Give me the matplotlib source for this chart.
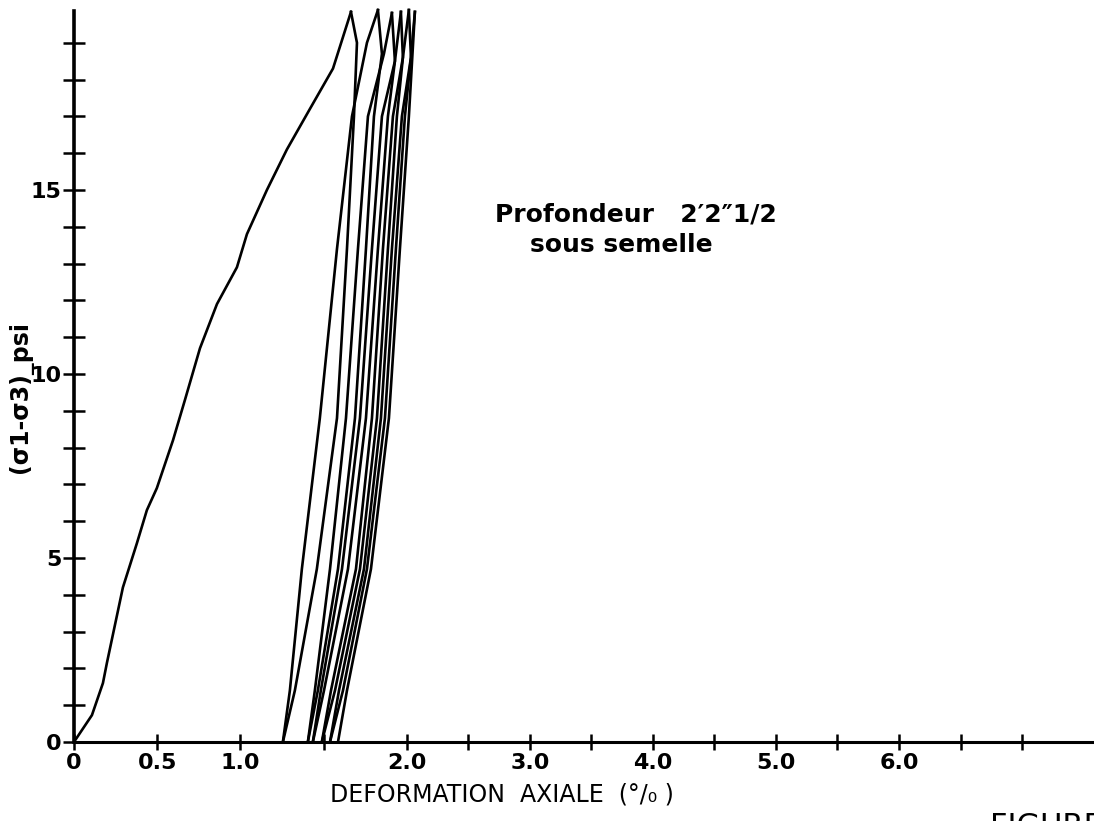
import numpy as np
import matplotlib.pyplot as plt
from matplotlib.ticker import FixedLocator, FixedFormatter

# deformation axiale (%) / (sigma1 - sigma3) en psi
virgin_x = [0, 0.108, 0.174, 0.198, 0.294, 0.378, 0.438, 0.498, 0.595, 0.667,
            0.757, 0.859, 0.979, 1.039, 1.159, 1.279, 1.417, 1.556, 1.664]
virgin_y = [0, 0.73, 1.6, 2.15, 4.2, 5.4, 6.3, 6.9, 8.2, 9.3,
            10.7, 11.9, 12.9, 13.8, 15.0, 16.1, 17.2, 18.3, 19.84]

# cycles decharge / recharge, chaque branche du pied jusqu'au sommet
r2_x = [1.255, 1.297, 1.369, 1.477, 1.580, 1.670, 1.706, 1.760, 1.826]
r2_y = [0, 1.4, 4.7, 8.8, 13.4, 17.0, 17.8, 19.0, 19.89]
u1_x = [1.255, 1.327, 1.459, 1.580, 1.640, 1.682, 1.700, 1.664]
u1_y = [0, 1.4, 4.7, 8.8, 13.4, 17.0, 19.0, 19.84]
r3_x = [1.405, 1.447, 1.538, 1.634, 1.706, 1.766, 1.862, 1.910]
r3_y = [0, 1.4, 4.7, 8.8, 13.4, 17.0, 18.7, 19.81]
u2_x = [1.405, 1.465, 1.586, 1.688, 1.754, 1.802, 1.850, 1.826]
u2_y = [0, 1.4, 4.7, 8.8, 13.4, 17.0, 18.7, 19.89]
r4_x = [1.435, 1.483, 1.610, 1.718, 1.790, 1.850, 1.928, 1.964]
r4_y = [0, 1.4, 4.7, 8.8, 13.4, 17.0, 18.5, 19.84]
u3_x = [1.435, 1.502, 1.646, 1.754, 1.826, 1.886, 1.928, 1.910]
u3_y = [0, 1.4, 4.7, 8.8, 13.4, 17.0, 18.5, 19.81]
r5_x = [1.489, 1.544, 1.694, 1.790, 1.856, 1.916, 1.976, 2.016]
r5_y = [0, 1.4, 4.7, 8.8, 13.4, 17.0, 18.6, 19.89]
u4_x = [1.489, 1.568, 1.718, 1.820, 1.886, 1.940, 1.976, 1.964]
u4_y = [0, 1.4, 4.7, 8.8, 13.4, 17.0, 18.6, 19.84]
r6_x = [1.538, 1.592, 1.742, 1.844, 1.910, 1.970, 2.033, 2.065]
r6_y = [0, 1.4, 4.7, 8.8, 13.4, 17.0, 18.6, 19.84]
u5_x = [1.538, 1.616, 1.760, 1.868, 1.934, 1.988, 2.033, 2.016]
u5_y = [0, 1.4, 4.7, 8.8, 13.4, 17.0, 18.6, 19.89]
u6_x = [1.586, 1.640, 1.784, 1.892, 1.958, 2.016, 2.065]
u6_y = [0, 1.4, 4.7, 8.8, 13.4, 17.0, 19.84]

x_ticks = [0, 0.5, 1.0, 1.5, 2.0, 2.5, 3.0, 3.5, 4.0, 4.5, 5.0, 5.5, 6.0, 6.5, 7.0]
x_labels = ['0', '0.5', '1.0', '', '2.0', '', '3.0', '', '4.0', '', '5.0', '', '6.0', '', '']
y_ticks = list(range(0, 20))
y_labels = [str(v) if v % 5 == 0 else '' for v in y_ticks]


# l'echelle des x est plus serree au-dela de 2.0 sur l'original
def fwd(x):
    x = np.asarray(x, dtype=float)
    return np.where(x <= 2, x, 2 + (x - 2) * 0.739)


def inv(t):
    t = np.asarray(t, dtype=float)
    return np.where(t <= 2, t, 2 + (t - 2) / 0.739)


fig = plt.figure(figsize=(10.94, 8.21), dpi=100)
ax = fig.add_axes([0.0676, 0.0962, 0.9324, 0.8898])
ax.set_xscale('function', functions=(fwd, inv))

lw = 1.9
ax.plot(virgin_x, virgin_y, color='black', lw=lw, clip_on=False)
for bx, by in [(r2_x, r2_y), (u1_x, u1_y), (r3_x, r3_y), (u2_x, u2_y),
               (r4_x, r4_y), (u3_x, u3_y), (r5_x, r5_y), (u4_x, u4_y),
               (r6_x, r6_y), (u5_x, u5_y), (u6_x, u6_y)]:
    ax.plot(bx, by, color='black', lw=lw, clip_on=False)

ax.set_xlim(0, 7.585)
ax.set_ylim(0, 19.85)

for side in ['top', 'right']:
    ax.spines[side].set_visible(False)
ax.spines['left'].set_linewidth(2.6)
ax.spines['bottom'].set_linewidth(2.2)

ax.xaxis.set_major_locator(FixedLocator(x_ticks))
ax.xaxis.set_major_formatter(FixedFormatter(x_labels))
ax.yaxis.set_major_locator(FixedLocator(y_ticks))
ax.yaxis.set_major_formatter(FixedFormatter(y_labels))
ax.tick_params(axis='x', direction='inout', length=12, width=1.8, pad=2,
               labelsize=16)
ax.tick_params(axis='y', direction='inout', length=16, width=1.8, pad=1,
               labelsize=16)
for lab in ax.get_xticklabels() + ax.get_yticklabels():
    lab.set_fontweight('bold')

ax.set_xlabel('DEFORMATION  AXIALE  (°/₀ )', fontsize=17)
ax.xaxis.set_label_coords(0.42, -0.056)
ax.set_ylabel('(σ1-σ3)_psi', fontsize=17, fontweight='bold')
ax.yaxis.set_label_coords(-0.040, 0.472)

fig.text(0.4525, 0.7296, 'Profondeur   2′2″1/2', fontsize=18, fontweight='bold',
         va='baseline')
fig.text(0.4845, 0.693, 'sous semelle', fontsize=18, fontweight='bold',
         va='baseline')
fig.text(0.905, 0.011, 'FIGURE', fontsize=22, va='top')

fig.savefig('out.png', dpi=100)
